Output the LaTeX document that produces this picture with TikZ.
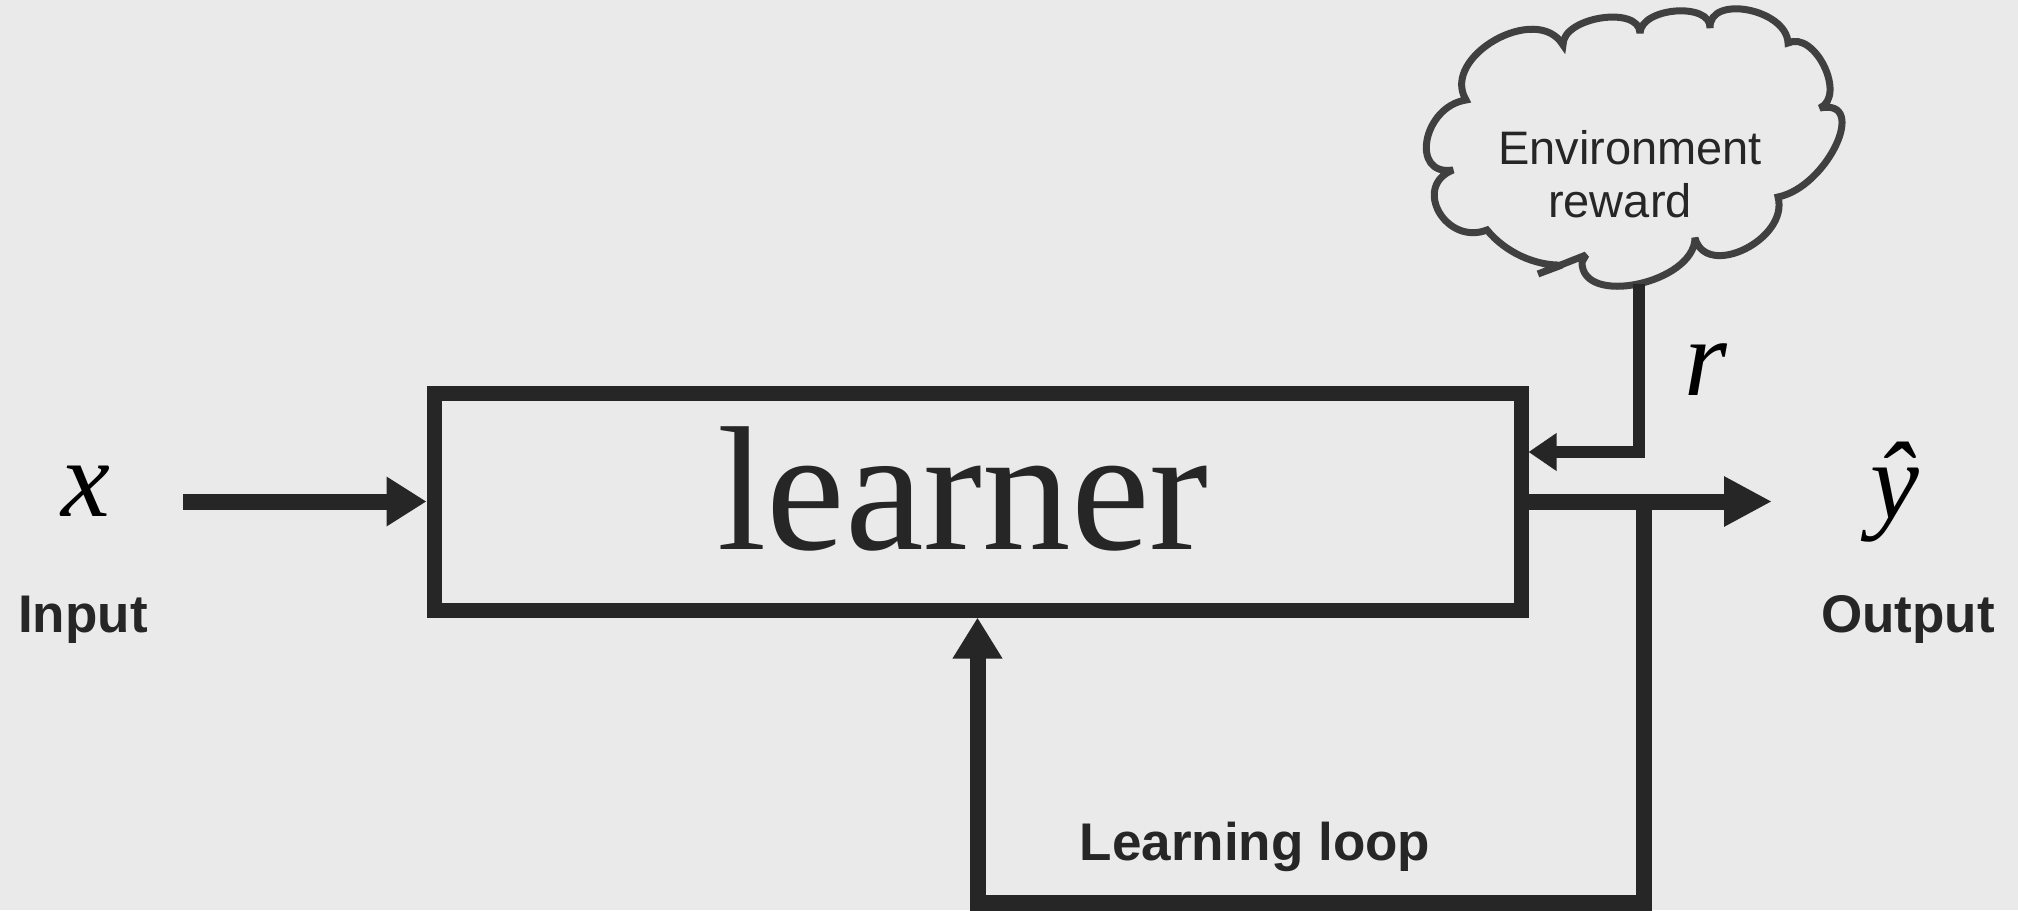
\documentclass[tikz,border=0pt]{standalone}
\usepackage{fontspec}
\setmainfont{Liberation Serif}
\setsansfont{Liberation Sans}
\usetikzlibrary{arrows.meta}
\definecolor{bg}{HTML}{EAEAEA}
\definecolor{ink}{HTML}{262626}
\definecolor{cloudline}{HTML}{404040}
\begin{document}
\begin{tikzpicture}[x=1pt,y=-1pt,line join=miter,
  boxstyle/.style={draw=ink,line width=15pt,minimum width=1087pt,minimum height=217pt,inner sep=0pt},
  mainconn/.style={draw=ink,line width=16pt,-{Triangle[length=40pt,width=47pt]}},
  outconn/.style={draw=ink,line width=16pt,-{Triangle[length=48pt,width=47pt]}},
  rconn/.style={draw=ink,line width=11.5pt,-{Triangle[length=28pt,width=36pt]}},
  lbl/.style={font=\sffamily\bfseries\fontsize{53}{60}\selectfont,text=ink,inner sep=0pt,anchor=base},
  mathlbl/.style={font=\itshape\fontsize{110}{120}\selectfont,text=black,inner sep=0pt,anchor=base}]
\fill[bg] (0,0) rectangle (2018,910);
\useasboundingbox (0,0) rectangle (2018,910);

% cloud
\draw[cloudline,line width=7pt,fill=bg,miter limit=3]
 (1466,100) .. controls (1422.7,106.7) and (1409.7,176.7) .. (1453,170)
 .. controls (1411.7,186) and (1445.7,246) .. (1487,230)
 .. controls (1505,252) and (1535,266) .. (1562,265)
 -- (1538,274) -- (1586,255) -- (1582,262)
 .. controls (1581.3,307.3) and (1694.3,283.3) .. (1695,238)
 .. controls (1706.3,280) and (1789.3,239) .. (1778,197)
 .. controls (1827.3,187) and (1869.3,98) .. (1820,108)
 .. controls (1846.7,95.3) and (1814.7,30.3) .. (1788,43)
 .. controls (1786.7,9) and (1708.7,-6) .. (1710,28)
 .. controls (1711.3,2) and (1641.3,7) .. (1640,33)
 .. controls (1639.3,5) and (1562.3,17) .. (1563,45)
 .. controls (1537,1.7) and (1440,56.7) .. (1466,100) -- cycle;
\node[font=\sffamily\fontsize{47}{53}\selectfont,align=center,text=ink,inner sep=0pt] (env) at (1630,174.5) {Environment\\reward\hspace*{20pt}};

% learner box
\node[boxstyle] (learner) at (977.5,501.5) {};
\node[font=\fontsize{177}{190}\selectfont,text=ink,inner sep=0pt,anchor=base] (learnerlbl) at (963,549) {learner};

% coordinates
\coordinate (xin) at (183,501.5);
\coordinate (yout) at (1772,501.5);
\coordinate (lj) at (1644,501.5);
\coordinate (lb) at (1644,903);
\coordinate (cloudbot) at (1639,284);

% connectors
\draw[mainconn] (xin) -- (learner.west);
\draw[mainconn,-{Triangle[length=41pt,width=47pt]}] (lj) -- (lb) -| (learner.south);
\draw[outconn] (learner.east) -- (yout);
\draw[rconn] (cloudbot) |- ([yshift=49.5pt]learner.east);

% labels
\node[mathlbl] (xlbl) at (86,516) {x};
\node[mathlbl] (rlbl) at (1706,395) {r};
\node[mathlbl] (yhat) at (1895,518) {ŷ};
\node[lbl] (inputlbl) at (83,632) {Input};
\node[lbl] (outputlbl) at (1908,632) {Output};
\node[lbl] (looplbl) at (1255,860) {Learning loop};
\end{tikzpicture}
\end{document}
